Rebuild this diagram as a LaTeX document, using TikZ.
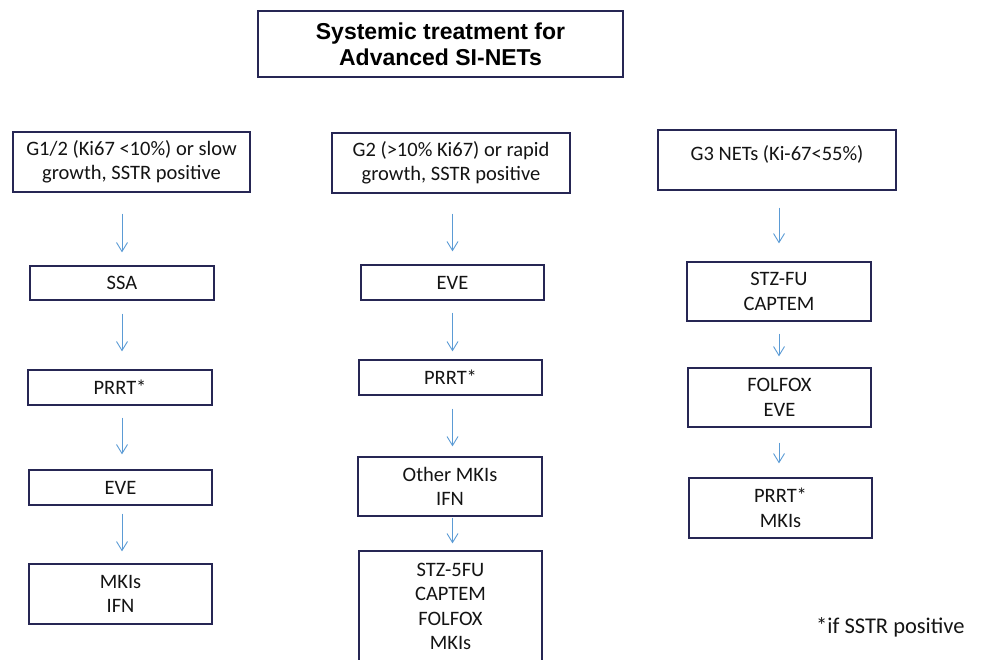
\documentclass[tikz,border=0pt]{standalone}
\usepackage{fontspec}
\setmainfont{Carlito}
\newfontfamily\titlefont{Liberation Sans}
\usetikzlibrary{arrows.meta}
\definecolor{boxline}{RGB}{38,38,84}
\definecolor{flowblue}{RGB}{91,155,213}
\definecolor{ink}{RGB}{20,20,20}

\begin{document}
\begin{tikzpicture}[x=1pt, y=-1pt, >={Straight Barb[length=9pt,width=11pt]},
    box/.style={draw=boxline, line width=1.3pt, fill=white, align=center, inner sep=0pt, text=ink, font=\fontsize{20.5}{24.5}\selectfont},
    flow/.style={->, flowblue, line width=0.9pt}]
    \clip (0,0) rectangle (981,659);
    \node [box, minimum width=365pt, minimum height=66pt, text=black, font=\titlefont\bfseries\fontsize{23}{26}\selectfont] (title) at (440.5,44) {Systemic treatment for\\Advanced SI-NETs};
    % left column
    \node [box, minimum width=237pt, minimum height=60pt] (g12) at (131.5,162) {G1/2 (Ki67 <10\%) or slow\\growth, SSTR positive};
    \node [box, minimum width=184pt, minimum height=34pt] (ssa) at (122,283) {SSA};
    \node [box, minimum width=184pt, minimum height=35pt] (prrtl) at (120,387.5) {PRRT*};
    \node [box, minimum width=183pt, minimum height=35pt] (evel) at (120.5,487.5) {EVE};
    \node [box, minimum width=183pt, minimum height=60pt] (mkil) at (120.5,594) {MKIs\\IFN};
    % middle column
    \node [box, minimum width=238pt, minimum height=60pt] (g2) at (451,163) {G2 (>10\% Ki67) or rapid\\growth, SSTR positive};
    \node [box, minimum width=183pt, minimum height=35pt] (evem) at (452.5,282.5) {EVE};
    \node [box, minimum width=183pt, minimum height=35pt] (prrtm) at (450.5,377.5) {PRRT*};
    \node [box, minimum width=184pt, minimum height=59pt] (otherm) at (450,486.5) {Other MKIs\\IFN};
    \node [box, minimum width=183pt, minimum height=111pt] (stzm) at (450.5,606.5) {STZ-5FU\\CAPTEM\\FOLFOX\\MKIs};
    % right column
    \node [box, minimum width=238pt, minimum height=60pt] (g3) at (777,160) {G3 NETs (Ki-67<55\%)\\[-10pt] \mbox{}};
    \node [box, minimum width=184pt, minimum height=59pt] (stzr) at (779,291.5) {STZ-FU\\CAPTEM};
    \node [box, minimum width=183pt, minimum height=59pt] (folr) at (779.5,397.5) {FOLFOX\\EVE};
    \node [box, minimum width=183pt, minimum height=60pt] (prrtr) at (780.5,508) {PRRT*\\MKIs};
    \node [anchor=base west, inner sep=0pt, text=ink, font=\fontsize{22.5}{26}\selectfont] (note) at (816,633) {*if SSTR positive};
    % arrows
    \draw [flow, shorten <=21pt, shorten >=13pt] (ssa.north |- g12.south) -- (ssa.north);
    \draw [flow, shorten <=13pt, shorten >=18pt] (ssa.south) -- (ssa.south |- prrtl.north);
    \draw [flow, shorten <=12pt, shorten >=15pt] (ssa.south |- prrtl.south) -- (ssa.south |- evel.north);
    \draw [flow, shorten <=8pt, shorten >=12pt] (ssa.south |- evel.south) -- (ssa.south |- mkil.north);
    \draw [flow, shorten <=20pt, shorten >=13pt] (evem.north |- g2.south) -- (evem.north);
    \draw [flow, shorten <=12pt, shorten >=8pt] (evem.south) -- (evem.south |- prrtm.north);
    \draw [flow, shorten <=13pt, shorten >=10pt] (evem.south |- prrtm.south) -- (evem.south |- otherm.north);
    \draw [flow, shorten <=1pt, shorten >=7pt] (evem.south |- otherm.south) -- (evem.south |- stzm.north);
    \draw [flow, shorten <=17pt, shorten >=18pt] (stzr.north |- g3.south) -- (stzr.north);
    \draw [flow, shorten <=12pt, shorten >=11pt] (stzr.south) -- (stzr.south |- folr.north);
    \draw [flow, shorten <=15pt, shorten >=14pt] (stzr.south |- folr.south) -- (stzr.south |- prrtr.north);
\end{tikzpicture}
\end{document}
